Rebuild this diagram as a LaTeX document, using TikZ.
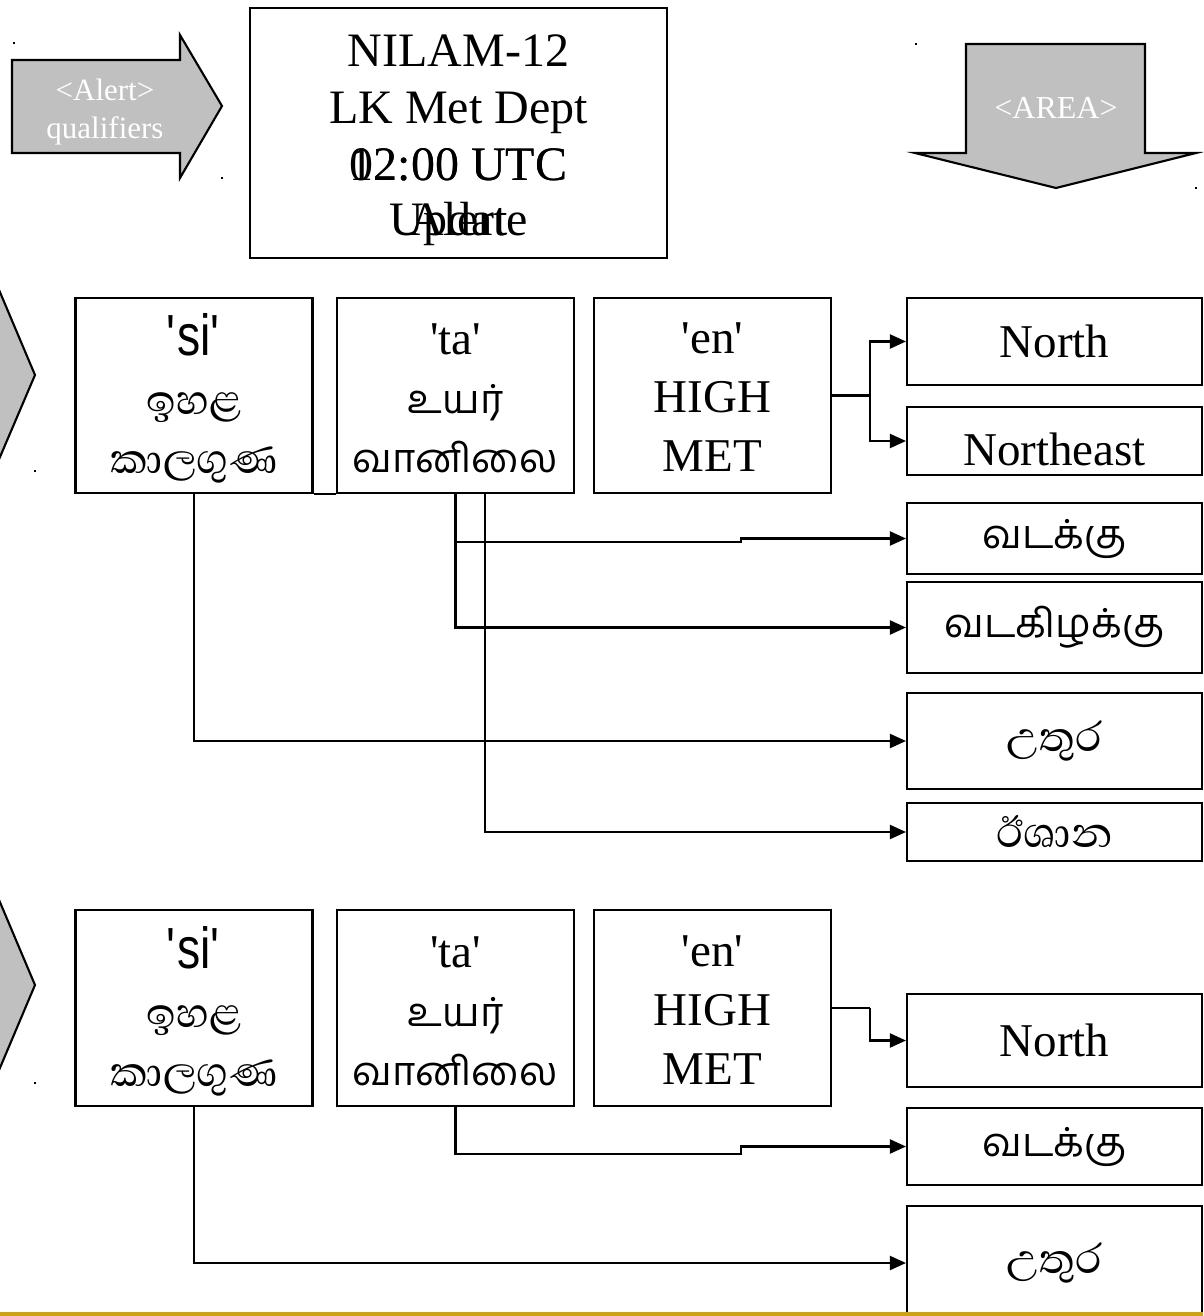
\documentclass[tikz,border=0pt]{standalone}
\usepackage{fontspec}
\setmainfont{Liberation Serif}
\newfontfamily\sinfont[Script=Sinhala]{Abhaya Libre}
\newfontfamily\tamfont[Script=Tamil]{Hind Madurai}
\newfontfamily\latsans[FakeStretch=0.8]{Liberation Sans}
\usetikzlibrary{arrows.meta}
\definecolor{shgray}{RGB}{192,192,192}
\definecolor{goldband}{RGB}{205,163,20}
\newcommand\sqt{\textquotesingle}
\newcommand\sinsz{\fontsize{53}{60}\selectfont}
\newcommand\tamsz{\fontsize{40}{60}\selectfont}
\newcommand\sisz{\fontsize{58}{60}\selectfont}
\begin{document}
\begin{tikzpicture}[x=1pt,y=-1pt,
  bx/.style={draw=black, line width=2.1pt, inner sep=0pt, align=center,
    font=\fontsize{47}{59}\selectfont},
  colbox/.style={bx, minimum width=295pt},
  rowbox/.style={bx, minimum width=237pt, minimum height=195pt},
  rowtxt/.style={inner sep=0pt, align=center, font=\fontsize{47}{59}\selectfont},
  plain/.style={line width=2.1pt},
  conn/.style={line width=2.1pt, -{Triangle[length=16pt,width=14pt]}},
  bigarrow/.style={fill=shgray, draw=black, line width=2.1pt, line join=miter},
  arrowtxt/.style={text=white, align=center, inner sep=0pt, font=\fontsize{31}{38}\selectfont},
  maintxt/.style={anchor=base, inner sep=0pt, font=\fontsize{48}{57}\selectfont}]
\useasboundingbox (0,0) rectangle (1203,1316);
\clip (0,0) rectangle (1203,1316);
\fill[white] (0,0) rectangle (1203,1316);

% header arrows
\draw[bigarrow] (12,60) -- (180,60) -- (180,35) -- (222,106) -- (180,178) -- (180,153) -- (12,153) -- cycle;
\node[arrowtxt] (alerttxt) at (105,112) {<Alert>\\qualifiers};
\draw[bigarrow] (966,44) -- (1145,44) -- (1145,153) -- (1196,153) -- (1056,188) -- (915,153) -- (966,153) -- cycle;
\node[arrowtxt, font=\fontsize{32}{38}\selectfont] (areatxt) at (1056,108) {<AREA>};
% partial side arrows
\draw[bigarrow] (-6,278) -- (35,375) -- (-6,471) -- cycle;
\draw[bigarrow] (-6,888) -- (35,985) -- (-6,1082) -- cycle;
% tiny corner marks
\fill (13,42) rectangle (15,44);
\fill (221,177) rectangle (223,179);
\fill (915,43) rectangle (917,45);
\fill (1195,187) rectangle (1197,189);
\fill (34,470) rectangle (36,472);
\fill (34,1082) rectangle (36,1084);

% main box
\node[draw=black, line width=2.1pt, minimum width=417pt, minimum height=250pt, inner sep=0pt] (mainbox) at (458.5,133) {};
\node[maintxt] (nilam) at (458.5,67) {NILAM-12};
\node[maintxt] (lkmet) at (458.5,124) {LK Met Dept};
\node[maintxt] (timea) at (458.5,181) {02:00 UTC};
\node[maintxt] (timeb) at (458.5,181) {12:00 UTC};
\node[maintxt] (upd) at (458.5,235) {Update};
\node[maintxt] (alrt) at (458.5,235) {Alert};

% ===== row 1 =====
\node[rowbox] (si1) at (194,395.5) {};
\node[rowbox] (ta1) at (455.5,395.5) {};
\node[rowbox] (en1) at (712.5,395.5) {};
\node[rowtxt] (si1t) at (si1.center) [yshift=-3pt] {{\latsans\sisz\sqt si\sqt}\\{\sinfont\sinsz ඉහළ}\\{\sinfont\sinsz කාලගුණ}};
\node[rowtxt] (ta1t) at (ta1.center) [yshift=-3pt] {\sqt ta\sqt\\{\tamfont\tamsz உயர்}\\{\tamfont\tamsz வானிலை}};
\node[rowtxt] (en1t) at (en1.center) [yshift=-2pt] {\sqt en\sqt\\HIGH\\MET};

\node[colbox, minimum height=87pt] (north1) at (1054.5,341.5) {North};
\node[colbox, minimum height=68pt] (ne1) at (1054.5,441) {\raisebox{-24pt}[0pt][0pt]{Northeast}};
\node[colbox, minimum height=71pt] (vad1) at (1054.5,538.5) {\raisebox{-4pt}{\tamfont\tamsz வடக்கு}};
\node[colbox, minimum height=91pt] (vadk1) at (1054.5,627.5) {\tamfont\tamsz வடகிழக்கு};
\node[colbox, minimum height=96pt] (utu1) at (1054.5,741) {\sinfont\sinsz උතුර};
\node[colbox, minimum height=58pt] (isa1) at (1054.5,832) {\sinfont\fontsize{54}{54}\selectfont ඊශාන};

\coordinate (j1) at (870,395.5);
\draw[plain] (en1.east) -- (j1);
\draw[conn] (j1) |- (north1.west);
\draw[conn] (j1) |- (ne1.west);
\draw[plain] (si1.south east) -- (ta1.south west);
\draw[conn] (si1.south) |- (utu1.west);
\draw[conn] (ta1.south) |- (vadk1.west);
\draw[conn] (ta1.south) |- (741,542) |- (vad1.west);
\draw[conn] ([xshift=29.5pt]ta1.south) |- (isa1.west);

% ===== row 2 =====
\node[rowbox, minimum height=196pt] (si2) at (194,1008) {};
\node[rowbox, minimum height=196pt] (ta2) at (455.5,1008) {};
\node[rowbox, minimum height=196pt] (en2) at (712.5,1008) {};
\node[rowtxt] (si2t) at (si2.center) [yshift=-3pt] {{\latsans\sisz\sqt si\sqt}\\{\sinfont\sinsz ඉහළ}\\{\sinfont\sinsz කාලගුණ}};
\node[rowtxt] (ta2t) at (ta2.center) [yshift=-3pt] {\sqt ta\sqt\\{\tamfont\tamsz உயர்}\\{\tamfont\tamsz வானிலை}};
\node[rowtxt] (en2t) at (en2.center) [yshift=-2pt] {\sqt en\sqt\\HIGH\\MET};

\node[colbox, minimum height=93pt] (north2) at (1054.5,1040.5) {North};
\node[colbox, minimum height=77pt] (vad2) at (1054.5,1146.5) {\raisebox{-4pt}{\tamfont\tamsz வடக்கு}};
\node[colbox, minimum height=114pt] (utu2) at (1054.5,1263) {\sinfont\sinsz උතුර};

\coordinate (j2) at (870,1008);
\draw[plain] (en2.east) -- (j2);
\draw[conn] (j2) |- (north2.west);
\draw[conn] (ta2.south) |- (741,1154) |- (vad2.west);
\draw[conn] (si2.south) |- (utu2.west);

% bottom band
\fill[goldband] (0,1312) rectangle (1203,1316);
\end{tikzpicture}
\end{document}
